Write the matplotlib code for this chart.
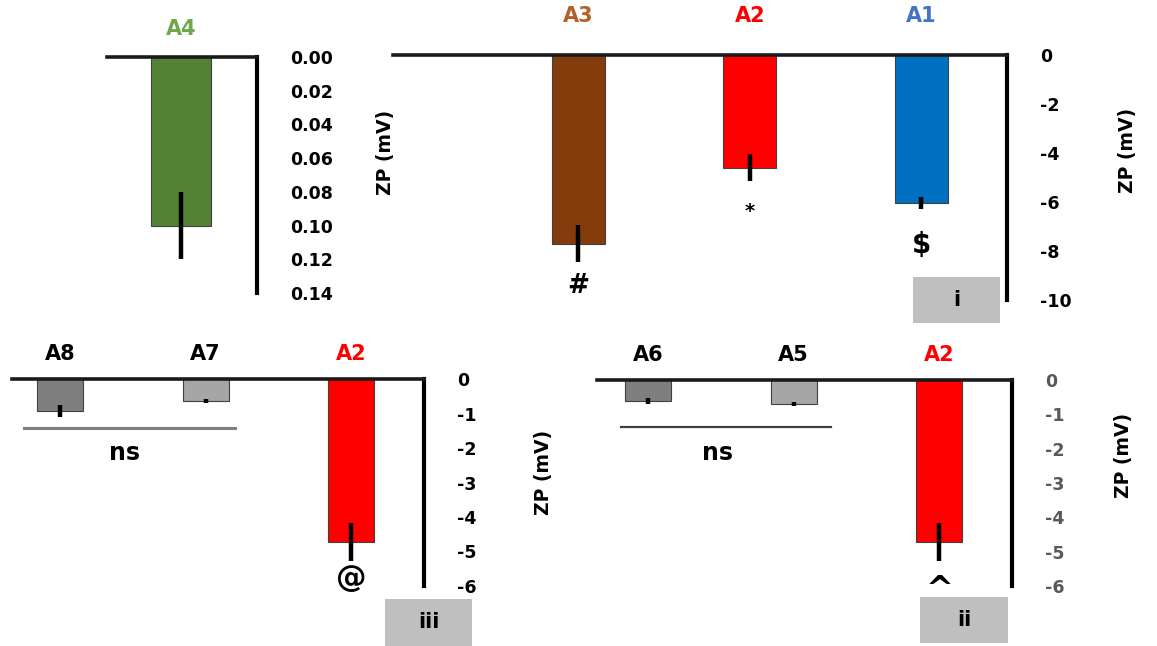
import numpy as np
import matplotlib
matplotlib.use('Agg')
import matplotlib.pyplot as plt
from matplotlib.patches import Rectangle
from matplotlib.ticker import FormatStrFormatter

plt.rcParams['font.family'] = ['DejaVu Sans']
plt.rcParams['font.weight'] = 'bold'
plt.rcParams['axes.unicode_minus'] = False

# __DATA__ ####################################################################
a4_names = ['A4']
a4_vals = [0.10]
a4_err = [0.02]
a4_ticks = [0.00, 0.02, 0.04, 0.06, 0.08, 0.10, 0.12, 0.14]

top_names = ['A3', 'A2', 'A1']
top_vals = [-7.7, -4.6, -6.05]
top_err = [0.75, 0.55, 0.25]
top_marks = ['#', '*', '$']
top_ticks = [0, -2, -4, -6, -8, -10]

iii_names = ['A8', 'A7', 'A2']
iii_vals = [-0.93, -0.64, -4.72]
iii_err = [0.17, 0.05, 0.55]
iii_marks = ['', '', '@']

ii_names = ['A6', 'A5', 'A2']
ii_vals = [-0.61, -0.70, -4.72]
ii_err = [0.08, 0.05, 0.55]
ii_marks = ['', '', '^']

bottom_ticks = [0, -1, -2, -3, -4, -5, -6]

# colours
a4_bar = ['#548235']
a4_lab = ['#6FA84A']
top_bar = ['#843C0C', '#FF0000', '#0070C0']
top_lab = ['#B3612A', '#FF0000', '#4472C4']
iii_bar = ['#7F7F7F', '#A6A6A6', '#FF0000']
ii_bar = ['#7F7F7F', '#A6A6A6', '#FF0000']
bot_lab = ['black', 'black', '#FF0000']

W, H = 1157, 646
fig = plt.figure(figsize=(W / 100, H / 100), dpi=100)


def px_axes(x0, y0, x1, y1):
    return fig.add_axes([x0 / W, 1 - y1 / H, (x1 - x0) / W, (y1 - y0) / H])


def style(ax, names, lab_colors, lab_pad, tick_color='black'):
    ax.spines['left'].set_visible(False)
    ax.spines['bottom'].set_visible(False)
    ax.spines['top'].set_linewidth(2.6)
    ax.spines['right'].set_linewidth(3.0)
    ax.spines['top'].set_color('#1a1a1a')
    ax.yaxis.tick_right()
    ax.tick_params(axis='y', length=0, pad=24, labelsize=12.5,
                   labelcolor=tick_color)
    ax.xaxis.tick_top()
    ax.set_xticks(range(len(names)))
    ax.set_xticklabels(names, fontsize=15)
    ax.tick_params(axis='x', length=0, pad=lab_pad)
    for t, c in zip(ax.get_xticklabels(), lab_colors):
        t.set_color(c)
    ax.patch.set_alpha(0)


def draw_bars(ax, vals, err, colors, width):
    x = np.arange(len(vals))
    ax.bar(x, vals, width=width, color=colors, edgecolor='#404040',
           linewidth=0.8, zorder=2)
    ax.errorbar(x, vals, yerr=err, fmt='none', ecolor='black',
                elinewidth=3.2, capsize=0, zorder=3)


def draw_marks(ax, vals, err, marks, sizes, offsets):
    for i, (v, e, m) in enumerate(zip(vals, err, marks)):
        if not m:
            continue
        ax.annotate(m, (i, v - e), xytext=(0, -offsets[m]),
                    textcoords='offset points', ha='center', va='center',
                    fontsize=sizes[m], color='black', annotation_clip=False)


mark_size = {'#': 19, '*': 14, '$': 20, '@': 22, '^': 24}
mark_off = {'#': 17, '*': 22, '$': 26, '@': 13, '^': 21}

# __PANEL_A4__ ################################################################
ax1 = px_axes(107, 57, 257, 293)
draw_bars(ax1, a4_vals, a4_err, a4_bar, 0.35)
ax1.set_xlim(-0.43, 0.445)
ax1.set_ylim(0.14, 0)
ax1.set_yticks(a4_ticks)
ax1.yaxis.set_major_formatter(FormatStrFormatter('%.2f'))
style(ax1, a4_names, a4_lab, 13)
fig.text(385 / W, 1 - 152 / H, 'ZP (mV)', rotation=90, ha='center',
         va='center', fontsize=13.5)

# __PANEL_i__ #################################################################
ax2 = px_axes(393, 55, 1007, 300)
draw_bars(ax2, top_vals, top_err, top_bar, 0.31)
draw_marks(ax2, top_vals, top_err, top_marks, mark_size, mark_off)
ax2.set_xlim(-1.08, 2.5)
ax2.set_ylim(-10, 0)
ax2.set_yticks(top_ticks)
style(ax2, top_names, top_lab, 21)
fig.text(1127 / W, 1 - 150 / H, 'ZP (mV)', rotation=90, ha='center',
         va='center', fontsize=13.5)

# __PANEL_iii__ ###############################################################
ax3 = px_axes(12, 379, 424, 586)
draw_bars(ax3, iii_vals, iii_err, iii_bar, 0.315)
draw_marks(ax3, iii_vals, iii_err, iii_marks, mark_size, mark_off)
ax3.set_xlim(-0.33, 2.5)
ax3.set_ylim(-6, 0)
ax3.set_yticks(bottom_ticks)
style(ax3, iii_names, bot_lab, 11)
ax3.plot([-0.245, 1.2], [-1.42, -1.42], color='#7F7F7F', lw=2.2,
         clip_on=False)
ax3.text(0.44, -2.14, 'ns', ha='center', va='center', fontsize=17)
fig.text(543 / W, 1 - 472 / H, 'ZP (mV)', rotation=90, ha='center',
         va='center', fontsize=13.5)

# __PANEL_ii__ ################################################################
ax4 = px_axes(597, 380, 1012, 586)
draw_bars(ax4, ii_vals, ii_err, ii_bar, 0.315)
draw_marks(ax4, ii_vals, ii_err, ii_marks, mark_size, mark_off)
ax4.set_xlim(-0.35, 2.5)
ax4.set_ylim(-6, 0)
ax4.set_yticks(bottom_ticks)
style(ax4, ii_names, bot_lab, 11, tick_color='#595959')
ax4.plot([-0.185, 1.257], [-1.37, -1.37], color='#404040', lw=1.6,
         clip_on=False)
ax4.text(0.48, -2.13, 'ns', ha='center', va='center', fontsize=17)
fig.text(1123 / W, 1 - 455 / H, 'ZP (mV)', rotation=90, ha='center',
         va='center', fontsize=13.5)

# __PANEL_TAGS__ ##############################################################
for x0, y0, x1, y1, tag in [(913, 277, 1000, 323, 'i'),
                            (385, 599, 472, 646, 'iii'),
                            (920, 597, 1008, 643, 'ii')]:
    fig.patches.append(Rectangle((x0 / W, 1 - y1 / H), (x1 - x0) / W,
                                 (y1 - y0) / H, transform=fig.transFigure,
                                 facecolor='#BFBFBF', edgecolor='none'))
    fig.text((x0 + x1) / 2 / W, 1 - (y0 + y1) / 2 / H, tag, ha='center',
             va='center', fontsize=15)

fig.savefig('out.png', dpi=100)
